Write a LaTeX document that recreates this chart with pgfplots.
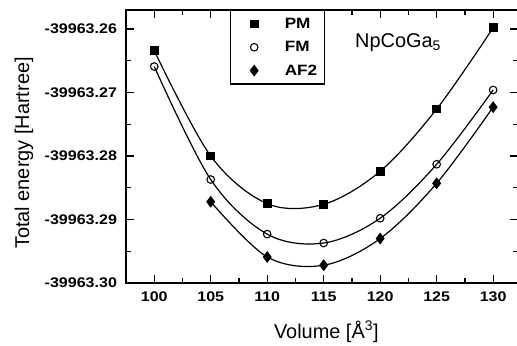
\documentclass[border=0pt]{standalone}
\usepackage{pgfplots}
\pgfplotsset{compat=1.18}
\usepackage{fontspec}
\setmainfont{Liberation Sans}
\newfontfamily\tickfont[FakeStretch=1.15]{Liberation Sans}
\begin{document}
% Energies are stored as E + 39963 (Hartree); tick labels carry the full values.
\begin{tikzpicture}
\useasboundingbox (-126bp,-63bp) rectangle (391bp,283bp);
\begin{axis}[
  at={(0,0)}, anchor=south west,
  scale only axis, width=392bp, height=273bp,
  xmin=97.5, xmax=132.2, ymin=-0.30, ymax=-0.2570,
  axis line style={line width=1.5pt},
  tick align=inside, tick style={line width=1.2pt, black},
  major tick length=8bp, minor tick length=5bp,
  xtick={100,105,...,130},
  xticklabels={100,105,110,115,120,125,130},
  ytick={-0.30,-0.29,-0.28,-0.27,-0.26},
  yticklabels={-39963.30,-39963.29,-39963.28,-39963.27,-39963.26},
  minor x tick num=1, minor y tick num=1,
  ticklabel style={font=\tickfont\fontsize{14}{15}\selectfont\bfseries},
  xticklabel style={yshift=-5.5bp},
  yticklabel style={xshift=-5.5bp},
  xlabel={Volume [Å\textsuperscript{3}]},
  ylabel={Total energy [Hartree]},
  label style={font=\fontsize{20}{22}\selectfont},
  xlabel style={at={(axis description cs:0.511,-0.2015)}, anchor=base},
  ylabel style={at={(axis description cs:-0.2474,0.476)}, anchor=base},
  legend style={at={(0.2653,1)}, anchor=north west, draw=black, line width=1.2pt,
    font=\tickfont\fontsize{15}{16}\selectfont\bfseries, row sep=7.5bp,
    inner xsep=5bp, inner ysep=5.5bp},
  legend cell align=left,
  legend image code/.code={\path (0bp,0bp) (46bp,0bp); \draw[only marks] plot coordinates {(18bp,0bp)};},
]
\addplot[black, line width=1.2pt, smooth, tension=0.55, mark=square*, mark size=3.8bp, mark options={solid}] coordinates {
 (100,-0.2634) (105,-0.2800) (110,-0.2875) (115,-0.2876) (120,-0.2824) (125,-0.2726) (130,-0.2598)};
\addlegendentry{PM}
\addplot[black, line width=1.2pt, smooth, tension=0.55, mark=o, mark size=3.8bp, mark options={solid, fill=white, line width=1.1pt}] coordinates {
 (100,-0.2659) (105,-0.2837) (110,-0.2923) (115,-0.2937) (120,-0.2898) (125,-0.2813) (130,-0.2696)};
\addlegendentry{FM}
\addplot[black, line width=1.2pt, smooth, tension=0.55, mark=diamond*, mark size=5bp, mark options={solid}] coordinates {
 (105,-0.2872) (110,-0.2959) (115,-0.2972) (120,-0.2930) (125,-0.2843) (130,-0.2723)};
\addlegendentry{AF2}
\node[anchor=base west, inner sep=0pt, font=\fontsize{20}{22}\selectfont] at (axis cs:117.77,-0.26283) {NpCoGa\textsubscript{5}};
\end{axis}
\end{tikzpicture}
\end{document}
